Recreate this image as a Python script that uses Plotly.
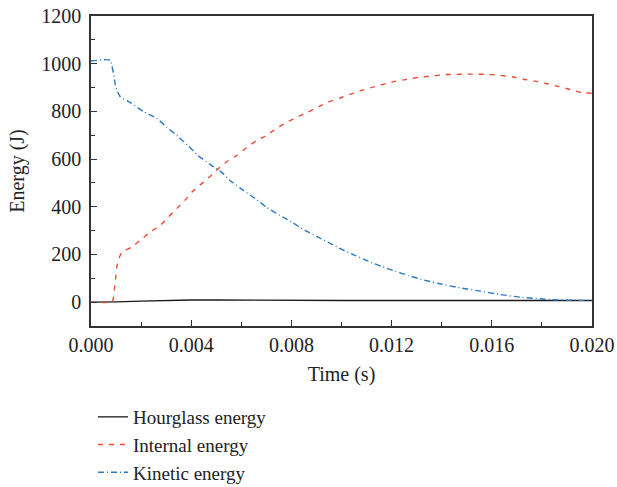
import plotly.graph_objects as go

# time in ms
t_kin = [0, 0.76, 0.96, 1.03, 1.18, 1.56, 2.08, 2.62, 3.02, 3.47, 3.87, 4.27, 4.75, 5.27, 5.55,
         6.08, 6.55, 7.01, 7.54, 8.01, 8.54, 9.01, 9.54, 10.01, 10.54, 11.07, 11.6, 12.14, 12.67,
         13.2, 13.93, 14.73, 15.53, 16.33, 17.13, 17.92, 18.44, 19.2, 20.0]
e_kin = [1011, 1015, 917, 888, 860, 838, 800, 771, 734, 695, 657, 615, 578, 540, 510,
         469, 435, 398, 364, 336, 301, 276, 247, 221, 196, 172, 150, 130, 112,
         95, 77, 60, 46, 32, 21, 14, 10, 8, 7]

t_int = [0, 0.84, 0.89, 0.96, 1.03, 1.09, 1.23, 1.63, 1.96, 2.36, 2.76, 3.09, 3.42, 3.75, 4.02,
         4.42, 4.75, 5.08, 5.48, 5.82, 6.22, 6.61, 7.01, 7.41, 7.81, 8.21, 8.66, 9.06, 9.46, 9.94,
         10.34, 10.81, 11.26, 11.66, 12.14, 12.61, 13.13, 13.61, 14.05, 14.53, 14.97, 15.41, 15.89,
         16.33, 16.81, 17.25, 17.72, 18.2, 18.64, 19.12, 19.6, 20.0]
e_int = [0, 0, 16, 78, 147, 175, 210, 231, 259, 294, 322, 357, 392, 427, 461,
         497, 527, 560, 594, 615, 649, 678, 699, 729, 754, 775, 797, 818, 838, 856,
         871, 888, 902, 913, 926, 934, 944, 948, 954, 955, 956, 956, 955,
         951, 945, 935, 927, 916, 905, 892, 878, 876]

t_hg = [0, 0.5, 1, 2, 3, 4, 5, 6, 8, 10, 12, 14, 16, 18, 20]
e_hg = [0, 0, 1, 4, 7, 9, 9, 8, 7, 7, 7, 8, 8, 7, 7]

x_ticks = [0, 0.004, 0.008, 0.012, 0.016, 0.020]
x_ticktext = ["0.000", "0.004", "0.008", "0.012", "0.016", "0.020"]
y_ticks = [0, 200, 400, 600, 800, 1000, 1200]

FONT = "Liberation Serif"

fig = go.Figure()
fig.add_trace(go.Scatter(x=[v / 1000 for v in t_hg], y=e_hg, mode="lines",
                         name="Hourglass energy",
                         line=dict(color="#1a1a1a", width=1.3)))
fig.add_trace(go.Scatter(x=[v / 1000 for v in t_int], y=e_int, mode="lines",
                         name="Internal energy",
                         line=dict(color="#ee4a35", width=1.4, dash="5px,6px", shape="spline",
                                   smoothing=0.4)))
fig.add_trace(go.Scatter(x=[v / 1000 for v in t_kin], y=e_kin, mode="lines",
                         name="Kinetic energy",
                         line=dict(color="#2a78c8", width=1.4, dash="6px,3px,1px,3px",
                                   shape="spline", smoothing=0.4)))

fig.update_layout(
    width=617, height=487,
    margin=dict(l=91, r=25, t=16, b=161, autoexpand=False),
    paper_bgcolor="white", plot_bgcolor="white",
    font=dict(family=FONT, size=20, color="#222"),
    showlegend=True,
    legend=dict(x=(93 - 91) / 501, y=(326 - 398) / 310,
                xanchor="left", yanchor="top",
                bgcolor="rgba(0,0,0,0)", font=dict(size=19, family=FONT),
                orientation="v"),
)
fig.update_xaxes(
    range=[0, 0.020], tickvals=x_ticks, ticktext=x_ticktext, tickangle=0,
    ticks="inside", ticklen=6, tickwidth=1.2, tickcolor="#333",
    minor=dict(ticks="inside", ticklen=4, dtick=0.002, tickcolor="#333", tickwidth=1.2),
    showline=True, linecolor="#333", linewidth=1.5, mirror=True,
    showgrid=False, zeroline=False, ticklabelstandoff=0,
    title=dict(text="Time (s)", font=dict(size=20, family=FONT), standoff=12),
)
fig.update_yaxes(
    range=[-100, 1200], tickvals=y_ticks,
    ticks="inside", ticklen=6, tickwidth=1.2, tickcolor="#333",
    minor=dict(ticks="inside", ticklen=4, dtick=100, tick0=0, tickcolor="#333", tickwidth=1.2),
    showline=True, linecolor="#333", linewidth=1.5, mirror=True,
    showgrid=False, zeroline=False, ticklabelstandoff=4,
    title=dict(text="Energy (J)", font=dict(size=20, family=FONT), standoff=11),
)

fig.write_html("out.html")
